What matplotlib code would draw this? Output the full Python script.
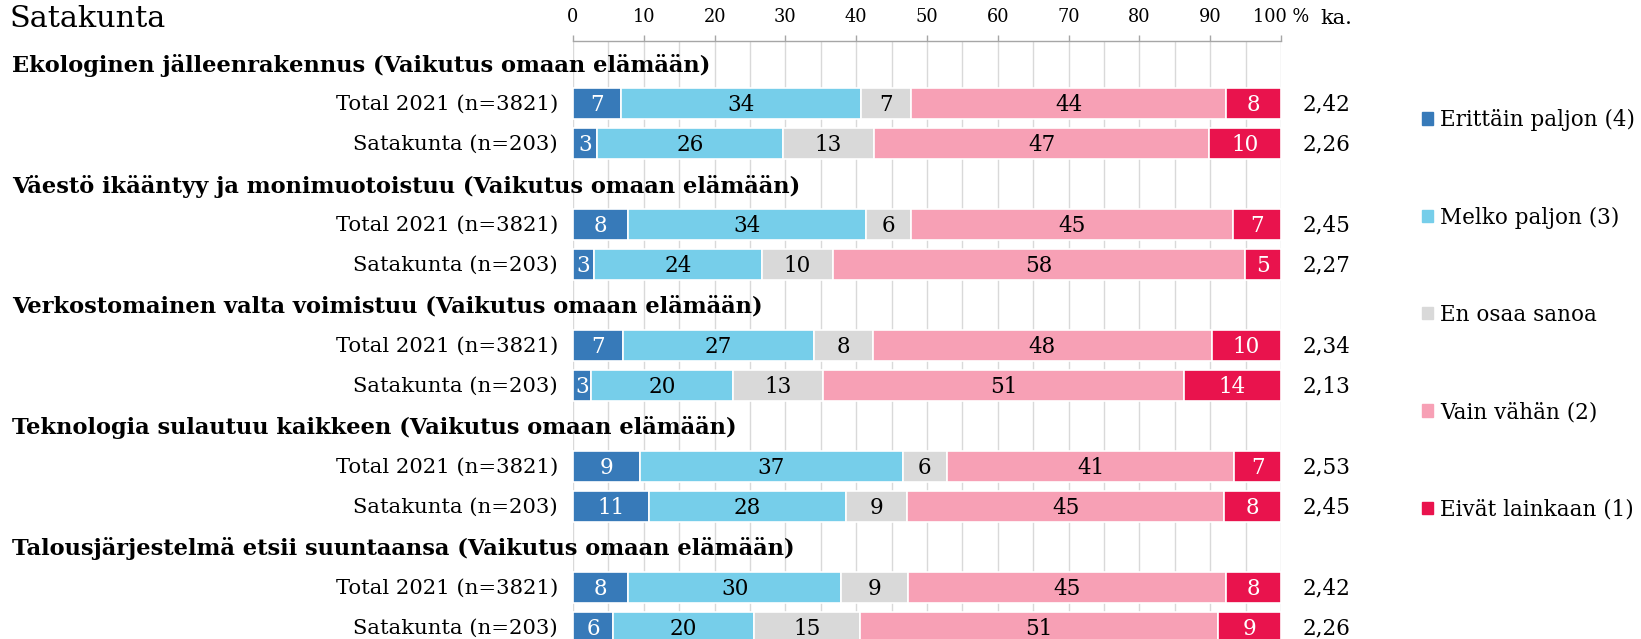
import matplotlib.pyplot as plt
from matplotlib.transforms import blended_transform_factory

# data
title = 'Satakunta'
groups = ['Ekologinen jälleenrakennus (Vaikutus omaan elämään)',
          'Väestö ikääntyy ja monimuotoistuu (Vaikutus omaan elämään)',
          'Verkostomainen valta voimistuu (Vaikutus omaan elämään)',
          'Teknologia sulautuu kaikkeen (Vaikutus omaan elämään)',
          'Talousjärjestelmä etsii suuntaansa (Vaikutus omaan elämään)']
rows = ['Total 2021 (n=3821)', 'Satakunta (n=203)']
categories = ['Erittäin paljon (4)', 'Melko paljon (3)', 'En osaa sanoa',
              'Vain vähän (2)', 'Eivät lainkaan (1)']

# one list per group: [Total 2021, Satakunta], values per category in %
eko = [[6.8, 33.9, 7.1, 44.4, 7.8], [3.4, 26.3, 12.8, 47.4, 10.1]]
vaesto = [[7.8, 33.6, 6.4, 45.4, 6.8], [3.0, 23.7, 10.0, 58.2, 5.1]]
verkosto = [[7.0, 27.1, 8.3, 47.8, 9.8], [2.6, 20.0, 12.7, 51.0, 13.7]]
teknologia = [[9.4, 37.2, 6.2, 40.6, 6.6], [10.8, 27.7, 8.7, 44.8, 8.0]]
talous = [[7.8, 30.1, 9.4, 45.0, 7.7], [5.7, 19.8, 15.0, 50.6, 8.9]]
means = [['2,42', '2,26'], ['2,45', '2,27'], ['2,34', '2,13'],
         ['2,53', '2,45'], ['2,42', '2,26']]
data = [eko, vaesto, verkosto, teknologia, talous]

colors = ['#377ab9', '#76ceea', '#d9d9d9', '#f7a0b5', '#e9134d']
text_colors = ['white', 'black', 'black', 'black', 'white']

plt.rcParams['font.family'] = ['DejaVu Serif']

W, H = 1641, 639
fig = plt.figure(figsize=(W / 100, H / 100), dpi=100)

# layout in pixels
x0, x1 = 573, 1281
y_top_px = 41
first_px = 63.0
pitch = 40.33

ax = fig.add_axes([x0 / W, 0, (x1 - x0) / W, 1 - y_top_px / H])
s_top = (y_top_px - first_px) / pitch
s_bot = (H - first_px) / pitch
ax.set_ylim(s_bot, s_top)
ax.set_xlim(0, 100)

trans = blended_transform_factory(fig.transFigure, ax.transData)

for g, (name, vals) in enumerate(zip(groups, data)):
    ax.text(12 / W, 3 * g + 0.05, name, transform=trans, ha='left', va='center',
            fontsize=16.2, fontweight='bold', clip_on=False)
    for r, row in enumerate(vals):
        y = 3 * g + 1 + r
        left = 0
        for c, v in enumerate(row):
            ax.barh(y, v, left=left, height=0.77, color=colors[c],
                    edgecolor='white', linewidth=1.2, zorder=3)
            ax.text(left + v / 2, y + 0.04, str(int(round(v))), ha='center', va='center',
                    fontsize=15.5, color=text_colors[c], zorder=4)
            left += v
        ax.text(558 / W, y + 0.02, rows[r], transform=trans, ha='right', va='center',
                fontsize=15.2, clip_on=False)
        ax.text(1303 / W, y + 0.02, means[g][r], transform=trans, ha='left',
                va='center', fontsize=15.5, clip_on=False)

# axis styling
ax.xaxis.tick_top()
ax.set_xticks(range(0, 101, 10))
ax.set_xticklabels([str(t) for t in range(0, 100, 10)] + ['100 %'])
ax.set_xticks(range(0, 101, 5), minor=True)
ax.tick_params(axis='x', which='major', direction='out', length=4, width=1,
               color='#a6a6a6', pad=7, labelsize=12.8)
ax.tick_params(axis='x', which='minor', length=0)
ax.grid(axis='x', which='both', color='#d9d9d9', linewidth=1, zorder=0)
ax.set_axisbelow(True)
ax.set_yticks([])
for side in ['left', 'right', 'bottom']:
    ax.spines[side].set_visible(False)
ax.spines['top'].set_color('#a6a6a6')
ax.spines['top'].set_linewidth(1)

fig.text(10 / W, 1 - 19 / H, title, ha='left', va='center', fontsize=21.8)
fig.text(1336 / W, 1 - 19 / H, 'ka.', ha='center', va='center', fontsize=15)

handles = [plt.Rectangle((0, 0), 1, 1, color=c) for c in colors]
fig.legend(handles, categories, loc='upper left',
           bbox_to_anchor=(1422 / W, 1 - 109 / H), frameon=False,
           handlelength=0.5, handleheight=0.5, handletextpad=0.35,
           labelspacing=3.5, borderpad=0, borderaxespad=0, fontsize=15.5)

fig.savefig('out.png', dpi=100)
